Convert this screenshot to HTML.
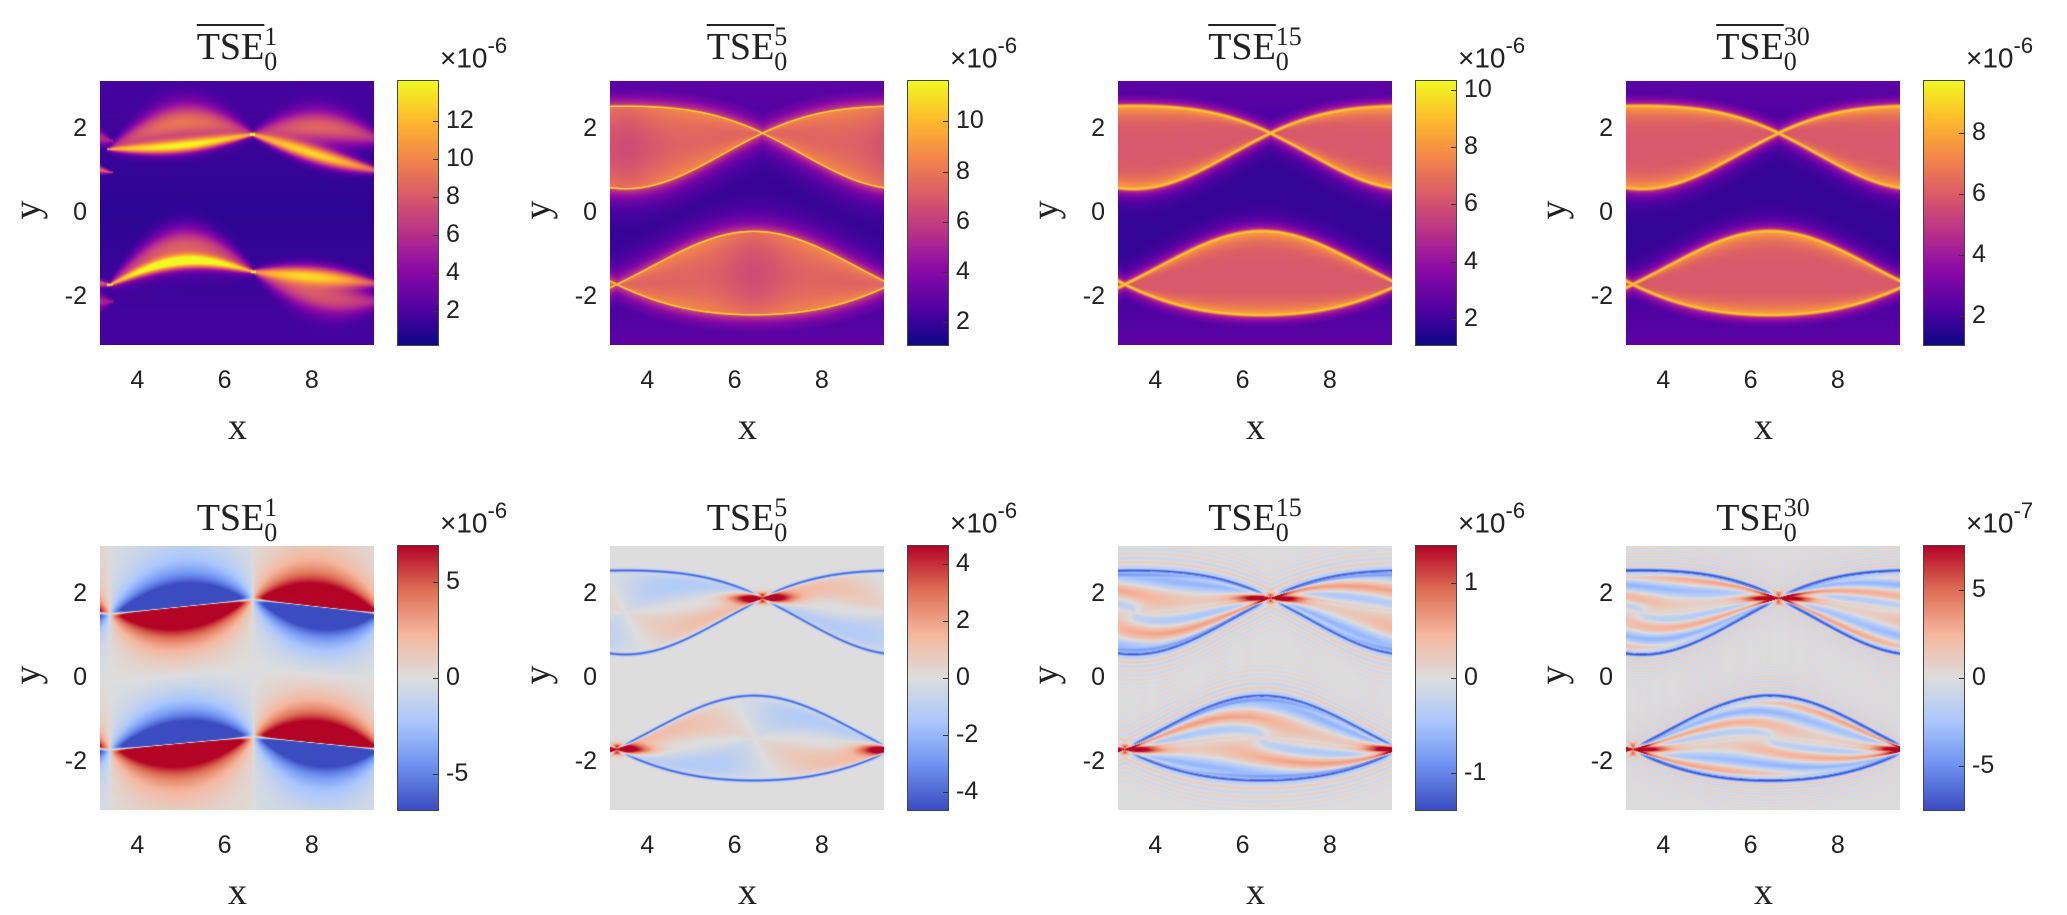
<!DOCTYPE html>
<html><head><meta charset="utf-8">
<style>
html,body{margin:0;padding:0;background:#fff;}
body{width:2067px;height:915px;position:relative;overflow:hidden;font-family:"Liberation Sans",sans-serif;color:#222;}
canvas{position:absolute;}
.title{position:absolute;font-family:"Liberation Serif",serif;font-size:38px;white-space:nowrap;transform:translateX(-50%);line-height:1;}
.title .ov{text-decoration:overline;text-decoration-thickness:2px;}
.title .ss{display:inline-block;vertical-align:-0.42em;font-size:26px;line-height:0.95;text-align:left;}
.tick{position:absolute;font-size:25px;line-height:1;white-space:nowrap;}
.lab{position:absolute;font-family:"Liberation Serif",serif;font-size:38px;line-height:1;}
.mult{position:absolute;font-size:28px;white-space:nowrap;line-height:1;}
.mult sup{font-size:22px;position:relative;top:-4px;}
.cbt{position:absolute;height:1px;width:5px;background:#333;}
</style></head>
<body>
<div id="fig"></div>
<script>
// ---- data arrays ----
const rowExps = [1, 5, 15, 30];
const topCmin = [0.2, 1.1, 1.1, 1.05];
const topCmax = [14.1, 11.6, 10.3, 9.7];
const topTicks = [[2,4,6,8,10,12],[2,4,6,8,10],[2,4,6,8,10],[2,4,6,8]];
const botCmax = [6.9, 4.65, 1.39, 7.5];
const botTicks = [[-5,0,5],[-4,-2,0,2,4],[-1,0,1],[-5,0,5]];
const colorbarExponents = [[-6,-6,-6,-6],[-6,-6,-6,-7]];
const xTicks = [4, 6, 8];
const yTicks = [2, 0, -2];
const upperX = [6.64, 1.9];
const lowerX = [3.3, -1.7];

const X0 = Math.PI, X1 = 3*Math.PI, Y0 = -Math.PI, Y1 = Math.PI;
const axLeft = [100, 610, 1118, 1626];
const rowTop = [81, 546];
const AW = 274, AH = 264;

function sx(x, c){ return axLeft[c] + (x - X0)/(X1 - X0)*AW; }
function sy(y, r){ return rowTop[r] + (Y1 - y)/(Y1 - Y0)*AH; }

const plasmaStops = [[13,8,135],[84,2,163],[139,10,165],[185,50,137],[219,92,104],[244,136,73],[254,188,43],[240,249,33]];
const divStops = [[59,76,192],[110,144,240],[170,199,253],[221,221,221],[245,183,158],[222,110,85],[180,4,38]];
function cmap(stops, t){
  t = Math.max(0, Math.min(1, t));
  const f = t*(stops.length-1), i = Math.min(stops.length-2, Math.floor(f)), u = f - i;
  const a = stops[i], b = stops[i+1];
  return [a[0]+(b[0]-a[0])*u, a[1]+(b[1]-a[1])*u, a[2]+(b[2]-a[2])*u];
}

function eye(x, y, up){
  const X = up ? upperX[0] : lowerX[0];
  const cy = up ? 1.56 + 0.17*(1+Math.cos(x-X)) : -1.43 - 0.135*(1+Math.cos(x-X));
  const w = (up ? 0.98 : 0.99)*Math.abs(Math.sin((x-X)/2));
  const d = y - cy;
  const e = Math.abs(d) - w;
  const s = d / Math.max(w, 1e-3);
  let ph = ((x - X) % (2*Math.PI) + 2*Math.PI) % (2*Math.PI) / (2*Math.PI);
  return {e, s, w, ph, d};
}

function topField(k, x, y){
  let best = 0;
  for (const up of [true,false]){
    const g = eye(x, y, up);
    let v;
    const bw = k===1 ? 0.04 : 0.075;
    const peak = [0,0.95,0.9,0.9][k];
    if (g.e < 0){
      const r = Math.min(1, Math.abs(g.s));
      v = 0.56 + 0.24*Math.pow(r, 4);
      if (k===1) v = 0.6 + 0.12*Math.pow(r,2) - 0.08*Math.exp(-Math.pow((g.ph-0.5)/0.12,2));
    } else {
      v = 0.08 + (k===1?0.45:0.5)*Math.exp(-g.e/(k===1?0.25:0.16));
    }
    v = Math.max(v, peak*Math.exp(-Math.pow(g.e/bw,2)));
    best = Math.max(best, v);
  }
  best = Math.max(best, 0.04 + 0.12*Math.min(1, Math.abs(y)/3));
  return best;
}
function streak(x, y, x0, y0, x1, y1, bend, wid, amp){
  let v = 0;
  for (const xx of [x, x+2*Math.PI, x-2*Math.PI]){
    const t = (xx - x0)/(x1 - x0);
    if (t < -0.02 || t > 1.02) continue;
    const tc = Math.max(0, Math.min(1, t));
    const line = y0 + (y1-y0)*tc + bend*Math.sin(Math.PI*tc);
    const sn = Math.sin(Math.PI*tc);
    const wv = wid*(0.12 + 0.88*Math.pow(sn, 0.7));
    v += amp*(0.55 + 0.45*sn)*Math.exp(-Math.pow((y-line)/wv, 2));
  }
  return v;
}
function top0Field(x, y){
  const uL=[3.37,1.52], uR=[6.64,1.87], lL=[3.37,-1.71], lR=[6.66,-1.4];
  let v = 0.06 + 0.05*Math.min(1, Math.abs(y)/2.5);
  v += streak(x,y,uL[0],uL[1],uR[0],uR[1],-0.1,0.16,0.8);
  v += streak(x,y,uL[0],uL[1],uR[0],uR[1],0.45,0.45,0.55);
  v += streak(x,y,uR[0],uR[1],uL[0]+2*Math.PI,uL[1]-0.55,-0.05,0.2,0.8);
  v += streak(x,y,uR[0],uR[1],uL[0]+2*Math.PI,uL[1]+0.2,0.25,0.4,0.5);
  v += streak(x,y,lL[0],lL[1],lR[0],lR[1],0.4,0.16,0.8);
  v += streak(x,y,lL[0],lL[1],lR[0],lR[1],0.75,0.45,0.5);
  v += streak(x,y,lR[0],lR[1],lL[0]+2*Math.PI,lL[1],0.05,0.22,0.7);
  v += streak(x,y,lR[0],lR[1],lL[0]+2*Math.PI,lL[1]-0.4,-0.2,0.4,0.45);
  return Math.min(v, 1);
}
function seg(x, y, x0, y0, x1, y1, sgn){
  let v = 0;
  for (const xx of [x, x+2*Math.PI, x-2*Math.PI]){
    const t = (xx - x0)/(x1 - x0);
    if (t < 0 || t > 1) continue;
    const sn = Math.sin(Math.PI*t);
    const env = Math.pow(sn, 0.6);
    const chord = y0 + (y1-y0)*t;
    const d = y - chord;
    const L = 0.1 + 0.6*env;
    v += sgn*Math.tanh(d/0.04)*(2.6*env*Math.exp(-Math.abs(d)/L*1.6) + 0.45*Math.pow(sn,0.4)*Math.exp(-Math.abs(d)/1.0));
  }
  return v;
}
function bot0Field(x, y){
  const uL=[3.37,1.52], uR=[6.64,1.87], lL=[3.37,-1.71], lR=[6.66,-1.4];
  let v = 0;
  v += seg(x,y,uL[0],uL[1],uR[0],uR[1],-1);
  v += seg(x,y,uR[0],uR[1],uL[0]+2*Math.PI,uL[1],1);
  v += seg(x,y,lL[0],lL[1],lR[0],lR[1],-1);
  v += seg(x,y,lR[0],lR[1],lL[0]+2*Math.PI,lL[1],1);
  return v;
}
function botField(k, x, y){
  let v = 0;
  for (const up of [true,false]){
    const g = eye(x, y, up);
    v += -(k===1?0.9:1.1)*Math.exp(-Math.pow((g.e-0.02)/0.035,2));
    if (g.e < 0){
      const r = Math.min(1, Math.abs(g.s));
      const th = Math.atan2(g.s, (g.ph-0.5)*2.4);
      if (k===1){
        v += 0.4*Math.cos(2*th + 1.2)*Math.pow(r,0.7)*(1-Math.pow(r,6));
      } else {
        const kk = k===2 ? 7 : 10;
        v += 0.55*Math.cos(2*th - kk*r)*Math.pow(r,0.5)*(1-Math.pow(r,8)) - 0.35*Math.exp(-Math.pow((r-0.93)/0.05,2));
      }
    } else if (k > 1){
      v += 0.22*Math.cos(g.e*(k===2?30:45))*Math.exp(-g.e/0.45);
    }
    const XP = up ? upperX : lowerX;
    for (const xx of [x, x+2*Math.PI, x-2*Math.PI]){
      const dx = xx - XP[0], dy = y - XP[1];
      v += 1.6*Math.exp(-(dx*dx)/0.45 - (dy*dy)/(0.012+0.01*dx*dx));
    }
  }
  return v;
}

const fig = document.getElementById('fig');
function mk(tag, cls, name, inter){
  const el = document.createElement(tag);
  if (cls) el.className = cls;
  fig.appendChild(el);
  
  
  return el;
}

for (let r = 0; r < 2; r++){
  for (let c = 0; c < 4; c++){
    const n = rowExps[c];
    const L = axLeft[c], T = rowTop[r];
    const cv = mk('canvas', '', 'heatmap-' + (r===0?'mean-tse-':'tse-') + n, false);
    cv.width = AW; cv.height = AH;
    cv.style.left = L + 'px'; cv.style.top = T + 'px';
    const ctx = cv.getContext('2d');
    const img = ctx.createImageData(AW, AH);
    for (let j = 0; j < AH; j++){
      const y = Y1 - (j+0.5)/AH*(Y1-Y0);
      for (let i = 0; i < AW; i++){
        const x = X0 + (i+0.5)/AW*(X1-X0);
        let col;
        if (r === 0){
          const t = c===0 ? top0Field(x,y) : topField(c, x, y);
          col = cmap(plasmaStops, t);
        } else {
          const v = c===0 ? bot0Field(x,y) : botField(c, x, y);
          col = cmap(divStops, 0.5 + 0.5*Math.max(-1, Math.min(1, v)));
        }
        const p = (j*AW + i)*4;
        img.data[p]=col[0]; img.data[p+1]=col[1]; img.data[p+2]=col[2]; img.data[p+3]=255;
      }
    }
    ctx.putImageData(img, 0, 0);

    const tt = mk('div', 'title', (r===0?'mean-tse-':'tse-') + n + '-title', false);
    tt.style.left = (L + AW/2) + 'px';
    tt.style.top = (T - (r===0?56:50)) + 'px';
    tt.innerHTML = (r===0 ? '<span class="ov">TSE</span>' : 'TSE') + '<span class="ss">' + n + '<br>0</span>';

    for (const xv of xTicks){
      const el = mk('div', 'tick', 'x-tick-' + xv, false);
      el.textContent = xv;
      el.style.left = (sx(xv, c) - 7) + 'px';
      el.style.top = (T + AH + 23) + 'px';
    }
    for (const yv of yTicks){
      const el = mk('div', 'tick', 'y-tick-' + yv, false);
      el.textContent = yv;
      el.style.right = (2067 - L + 13) + 'px';
      el.style.top = (sy(yv, r) - 13) + 'px';
    }
    const xl = mk('div', 'lab', 'x-axis-title', false);
    xl.textContent = 'x';
    xl.style.left = (L + AW/2 - 9) + 'px';
    xl.style.top = (T + AH + 63) + 'px';
    const yl = mk('div', 'lab', 'y-axis-title', false);
    yl.textContent = 'y';
    yl.style.left = (L - 82) + 'px';
    yl.style.top = (T + AH/2 - 22) + 'px';
    yl.style.transform = 'rotate(-90deg)';

    const cbL = L + 298, cbW = 40;
    const cb = mk('canvas', '', 'colorbar', false);
    cb.width = cbW; cb.height = AH;
    cb.style.left = cbL + 'px'; cb.style.top = T + 'px';
    cb.style.outline = '1px solid #444';
    const cx = cb.getContext('2d');
    for (let j = 0; j < AH; j++){
      const t = 1 - (j+0.5)/AH;
      const col = cmap(r===0 ? plasmaStops : divStops, t);
      cx.fillStyle = 'rgb(' + col.map(Math.round).join(',') + ')';
      cx.fillRect(0, j, cbW, 1);
    }
    const lo = r===0 ? topCmin[c] : -botCmax[c];
    const hi = r===0 ? topCmax[c] : botCmax[c];
    const ticks = r===0 ? topTicks[c] : botTicks[c];
    for (const tv of ticks){
      const yy = T + (hi - tv)/(hi - lo)*AH;
      const tm = mk('div', 'cbt', 'colorbar-tick-mark', false);
      tm.style.left = (cbL + cbW - 5) + 'px';
      tm.style.top = yy + 'px';
      const tl = mk('div', 'tick', 'colorbar-tick-' + tv, false);
      tl.textContent = tv;
      tl.style.left = (cbL + cbW + 8) + 'px';
      tl.style.top = (yy - 13) + 'px';
    }
    const ml = mk('div', 'mult', 'colorbar-exponent', false);
    ml.innerHTML = '×10<sup>' + colorbarExponents[r][c] + '</sup>';
    ml.style.left = (cbL + cbW + 2) + 'px';
    ml.style.top = (T - 42) + 'px';
  }
}
</script>
</body></html>
